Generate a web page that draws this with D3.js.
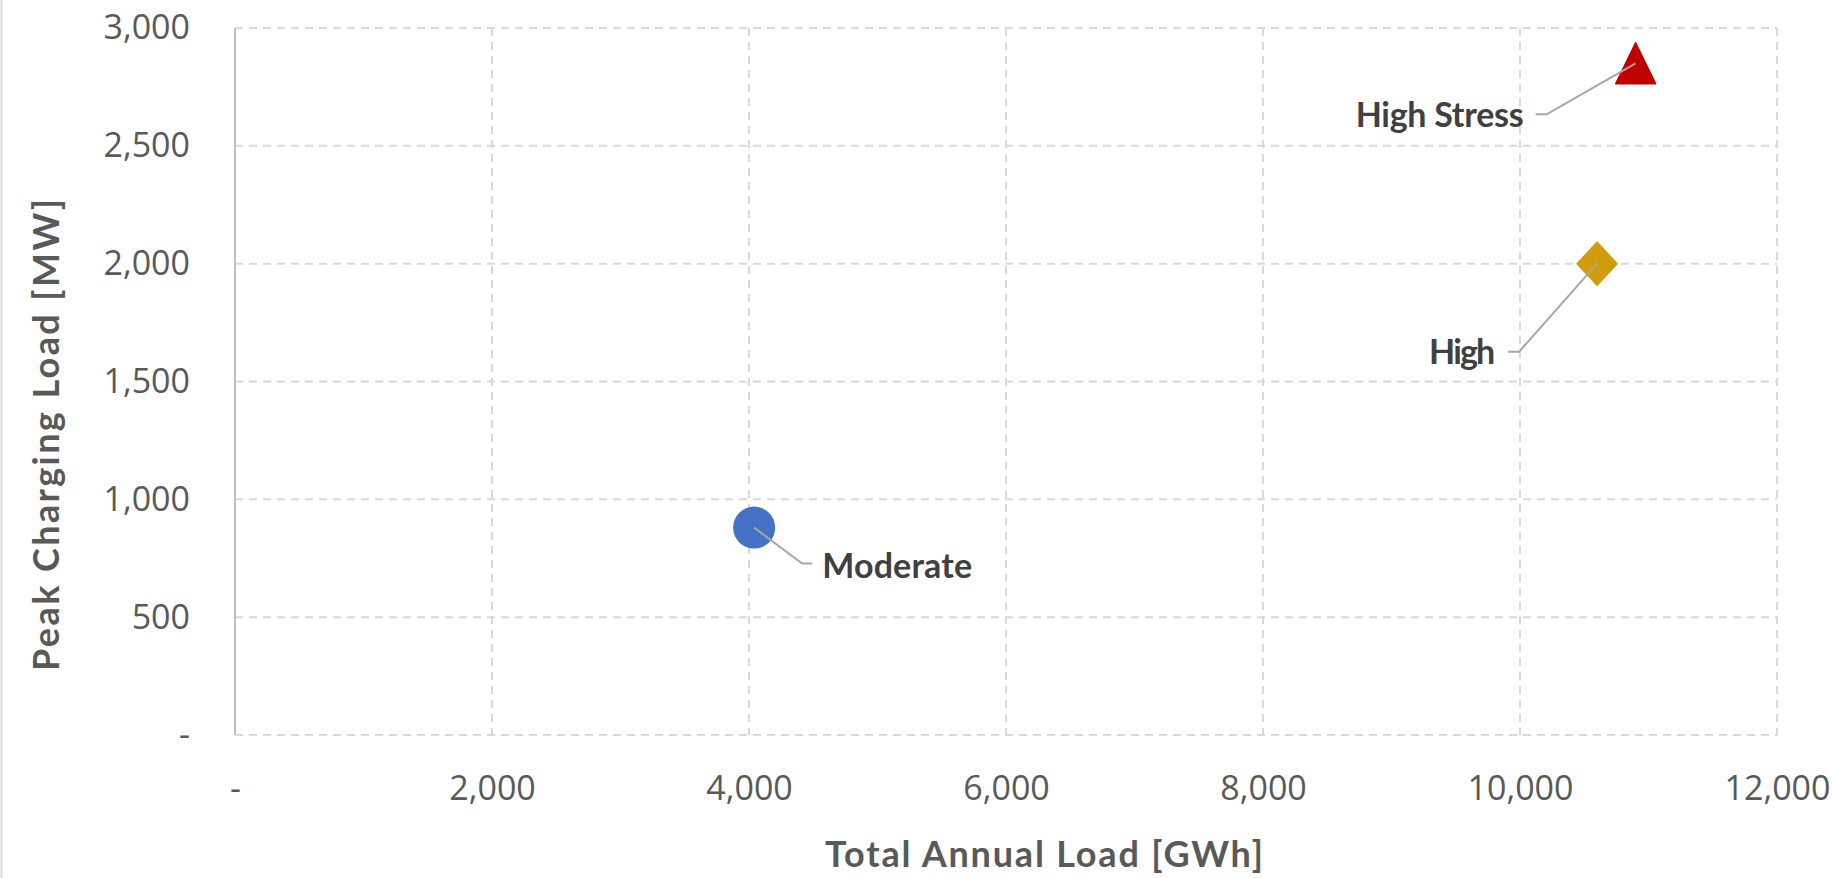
<!DOCTYPE html>
<html>
<head>
<meta charset="utf-8">
<script src="https://cdn.jsdelivr.net/npm/d3@7"></script>
<style>
  html, body { margin: 0; padding: 0; background: #ffffff; }
  svg { display: block; }
  text { font-family: "Open Sans", "Noto Sans", sans-serif; }
</style>
</head>
<body>
<svg id="chart" width="1832" height="878"></svg>
<script>
// Scenario data: total annual EV load vs. peak charging load
const scenarios   = ["Moderate", "High", "High Stress"];
const annualGWh   = [4040, 10600, 10900];
const peakMW      = [880, 2000, 2850];
const markerTypes = ["circle", "diamond", "triangle"];
const markerColors = ["#4472C4", "#D09C0C", "#C00000"];

// Axis ticks
const xTicks = [0, 2000, 4000, 6000, 8000, 10000, 12000];
const yTicks = [0, 500, 1000, 1500, 2000, 2500, 3000];

// Callout placement relative to each marker
const callouts = [
  { elbow: [48, 36], end: 58, text: [68, 50], anchor: "start", len: 150 },
  { elbow: [-78, 88], end: -89, text: [-102, 100], anchor: "end", len: 66 },
  { elbow: [-89, 51], end: -100, text: [-112, 64], anchor: "end", len: 168 }
];

const svg = d3.select("#chart");
const plot = { left: 235, right: 1777, top: 28, bottom: 735 };

const x = d3.scaleLinear().domain([0, 12000]).range([plot.left, plot.right]);
const y = d3.scaleLinear().domain([0, 3000]).range([plot.bottom, plot.top]);
const fmt = d => d === 0 ? "-" : d3.format(",")(d);

// Outer frame edge on the left
svg.append("line")
  .attr("x1", 1.5).attr("x2", 1.5).attr("y1", 0).attr("y2", 878)
  .attr("stroke", "#d9d9d9").attr("stroke-width", 2);

// Gridlines
const grid = svg.append("g").attr("stroke", "#d9d9d9").attr("stroke-width", 2)
  .attr("stroke-dasharray", "8,6").attr("fill", "none");
grid.selectAll(".h").data(yTicks).join("line")
  .attr("x1", plot.left).attr("x2", plot.right)
  .attr("y1", d => y(d)).attr("y2", d => y(d));
grid.selectAll(".v").data(xTicks.filter(d => d > 0)).join("line")
  .attr("y1", plot.top).attr("y2", plot.bottom)
  .attr("x1", d => x(d)).attr("x2", d => x(d));

// Solid value axis line
svg.append("line")
  .attr("x1", plot.left).attr("x2", plot.left).attr("y1", plot.top).attr("y2", plot.bottom)
  .attr("stroke", "#bfbfbf").attr("stroke-width", 2);

// Tick labels through d3 axes
const xAxis = svg.append("g").attr("transform", `translate(0,${plot.bottom})`)
  .call(d3.axisBottom(x).tickValues(xTicks).tickFormat(fmt).tickSize(0).tickPadding(41));
const yAxis = svg.append("g").attr("transform", `translate(${plot.left},0)`)
  .call(d3.axisLeft(y).tickValues(yTicks).tickFormat(fmt).tickSize(0).tickPadding(45));
[xAxis, yAxis].forEach(g => {
  g.select(".domain").remove();
  g.selectAll("text")
    .attr("fill", "#595959")
    .style("font-size", "34px")
    .style("font-family", "'Open Sans', sans-serif");
});

// Axis titles
svg.append("text")
  .attr("x", 1044).attr("y", 867)
  .attr("text-anchor", "middle")
  .attr("fill", "#595959")
  .style("font-family", "Lato, sans-serif")
  .style("font-size", "36px").style("font-weight", "bold")
  .attr("textLength", 438).attr("lengthAdjust", "spacing")
  .text("Total Annual Load [GWh]");

svg.append("text")
  .attr("transform", "translate(59,435) rotate(-90)")
  .attr("text-anchor", "middle")
  .attr("fill", "#595959")
  .style("font-family", "Lato, sans-serif")
  .style("font-size", "36px").style("font-weight", "bold")
  .attr("textLength", 472).attr("lengthAdjust", "spacing")
  .text("Peak Charging Load [MW]");

// Markers
const pts = scenarios.map((name, i) => ({
  name, cx: x(annualGWh[i]), cy: y(peakMW[i]),
  type: markerTypes[i], color: markerColors[i], c: callouts[i]
}));

function markerPath(p) {
  const { cx, cy } = p;
  if (p.type === "diamond") {
    return `M${cx},${cy - 21.5}L${cx + 20},${cy}L${cx},${cy + 21.5}L${cx - 20},${cy}Z`;
  }
  return `M${cx},${cy - 20.5}L${cx + 20},${cy + 20.5}L${cx - 20},${cy + 20.5}Z`;
}

const marks = svg.append("g");
pts.forEach(p => {
  if (p.type === "circle") {
    marks.append("circle").attr("cx", p.cx).attr("cy", p.cy).attr("r", 21)
      .attr("fill", p.color);
  } else {
    marks.append("path").attr("d", markerPath(p))
      .attr("fill", p.color).attr("stroke", p.color)
      .attr("stroke-width", 1.5).attr("stroke-linejoin", "round");
  }
});

// Callout leader lines and labels
const labels = svg.append("g");
pts.forEach(p => {
  const ex = p.cx + p.c.elbow[0], ey = p.cy + p.c.elbow[1];
  labels.append("polyline")
    .attr("points", `${p.cx},${p.cy} ${ex},${ey} ${p.cx + p.c.end},${ey}`)
    .attr("fill", "none").attr("stroke", "#a6a6a6").attr("stroke-width", 2);
  labels.append("text")
    .attr("x", p.cx + p.c.text[0]).attr("y", p.cy + p.c.text[1])
    .attr("text-anchor", p.c.anchor)
    .attr("fill", "#404040")
    .style("font-family", "Lato, sans-serif")
    .style("font-size", "34px").style("font-weight", "bold")
    .attr("textLength", p.c.len).attr("lengthAdjust", "spacing")
    .text(p.name);
});
</script>
</body>
</html>
